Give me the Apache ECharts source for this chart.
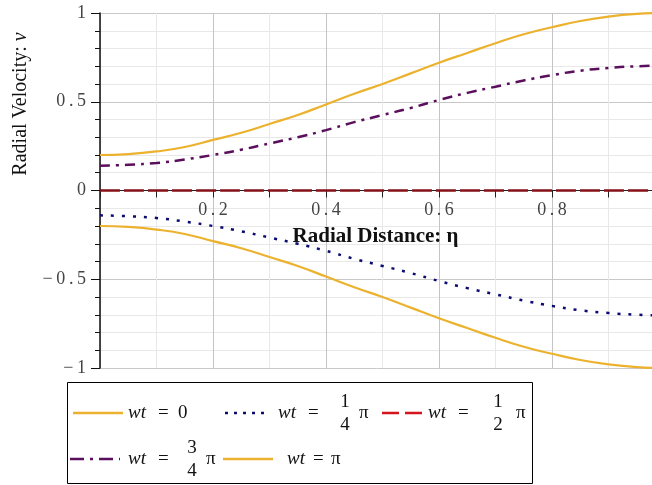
<!DOCTYPE html>
<html>
<head>
<meta charset="utf-8">
<script src="https://cdn.jsdelivr.net/npm/echarts@6.0.0/dist/echarts.min.js"></script>
<style>
html,body{margin:0;padding:0;background:#fff;}
#chart{width:652px;height:485px;}
</style>
</head>
<body>
<div id="chart"></div>
<script>
// ---- data ----
const eta = [0, 0.05, 0.1, 0.15, 0.2, 0.25, 0.3, 0.35, 0.4, 0.45, 0.5, 0.55, 0.6, 0.65, 0.7, 0.75, 0.8, 0.85, 0.9, 0.95, 1.0];
const vWt0 = [0.20, 0.205, 0.22, 0.245, 0.285, 0.325, 0.375, 0.425, 0.485, 0.545, 0.60, 0.66, 0.72, 0.775, 0.83, 0.88, 0.92, 0.955, 0.98, 0.995, 1.0];
const vWtQuarter = [-0.14, -0.145, -0.155, -0.175, -0.20, -0.23, -0.265, -0.30, -0.34, -0.385, -0.425, -0.465, -0.51, -0.55, -0.585, -0.62, -0.65, -0.675, -0.69, -0.70, -0.705];
const vWtHalf = [0, 0, 0, 0, 0, 0, 0, 0, 0, 0, 0, 0, 0, 0, 0, 0, 0, 0, 0, 0, 0];
const vWt3Quarter = [0.14, 0.145, 0.155, 0.175, 0.20, 0.23, 0.265, 0.30, 0.34, 0.385, 0.425, 0.465, 0.51, 0.55, 0.585, 0.62, 0.65, 0.675, 0.69, 0.70, 0.705];
const vWtPi = [-0.20, -0.205, -0.22, -0.245, -0.285, -0.325, -0.375, -0.425, -0.485, -0.545, -0.60, -0.66, -0.72, -0.775, -0.83, -0.88, -0.92, -0.955, -0.98, -0.995, -1.0];
const xTickLabels = {'0.2': '0\u2009.\u20092', '0.4': '0\u2009.\u20094', '0.6': '0\u2009.\u20096', '0.8': '0\u2009.\u20098'};
const yTickLabels = {'1': '1', '0.5': '0\u2009.\u20095', '0': '0', '-0.5': '\u2212\u20090\u2009.\u20095', '-1': '\u2212\u20091'};
const seriesNames = ['wt = 0', 'wt = 1/4 π', 'wt = 1/2 π', 'wt = 3/4 π', 'wt = π'];

const serif = '"Liberation Serif", "DejaVu Serif", serif';
const cYellow = '#ECB22E', cNavy = '#0C0C70', cRedPlot = '#861018', cRedLeg = '#D4161C', cPurple = '#5A0E5C';

function pairs(ys) { return eta.map((x, i) => [x, ys[i]]); }
function key(v) { return String(Math.round(v * 10) / 10); }

const W = 652, H = 485;
const gridTop = 13, gridBottom = 117;
const zeroOffset = -(H - gridTop - gridBottom) / 2; // move the x axis up to y = 0

const chart = echarts.init(document.getElementById('chart'), null, {renderer: 'canvas'});

// ---- legend drawn as graphic (stacked fractions) ----
const legendEls = [];
legendEls.push({type: 'rect', shape: {x: 67.5, y: 382.5, width: 465, height: 101}, style: {fill: '#fff', stroke: '#000', lineWidth: 1}, z: 10});
function seg(x1, x2, y, color, dash) {
  legendEls.push({type: 'line', shape: {x1: x1, y1: y, x2: x2, y2: y}, style: {stroke: color, lineWidth: 2.5, lineDash: dash || null}, z: 11});
}
function txt(s, x, y, italic, align) {
  legendEls.push({type: 'text', x: x, y: y, z: 11, style: {text: s, font: (italic ? 'italic ' : '') + '19px ' + serif, fill: '#111', align: align || 'left', verticalAlign: 'middle'}});
}
// row 1
seg(73, 123, 413, cYellow);
txt('wt', 128, 413, true); txt('=', 158, 413); txt('0', 178, 413);
seg(225, 265, 413, cNavy, [3, 6]);
txt('wt', 278, 413, true); txt('=', 308, 413); txt('1', 345, 402, false, 'center'); txt('4', 345, 425, false, 'center'); txt('π', 359, 413);
seg(382, 423, 413, cRedLeg, [17, 6]);
txt('wt', 428, 413, true); txt('=', 458, 413); txt('1', 498, 402, false, 'center'); txt('2', 498, 425, false, 'center'); txt('π', 516, 413);
// row 2
seg(70, 120, 459, cPurple, [14, 6, 3, 6]);
txt('wt', 128, 459, true); txt('=', 158, 459); txt('3', 192, 448, false, 'center'); txt('4', 192, 471, false, 'center'); txt('π', 206, 459);
seg(223, 273, 459, cYellow);
txt('wt', 287, 459, true); txt('=', 313, 459); txt('π', 331, 459);

// y axis title
legendEls.push({type: 'text', x: 21, y: 104, rotation: Math.PI / 2, z: 11,
  style: {text: '{a|Radial Velocity: }{b|v}', align: 'center', verticalAlign: 'middle',
    rich: {a: {font: '20px ' + serif, fill: '#111'}, b: {font: 'italic 20px ' + serif, fill: '#111'}}}});

const option = {
  backgroundColor: '#fff',
  animation: false,
  grid: {left: 100, top: gridTop, right: -13, bottom: gridBottom, containLabel: false, outerBoundsMode: 'none'},
  xAxis: {
    type: 'value', min: 0, max: 1, interval: 0.2,
    position: 'bottom', offset: zeroOffset,
    name: 'Radial Distance: η', nameLocation: 'middle', nameGap: 36,
    nameTextStyle: {fontFamily: serif, fontWeight: 'bold', fontSize: 21, color: '#111', padding: [0, 14, 0, 0]},
    axisLine: {show: true, onZero: false, lineStyle: {color: '#222', width: 1.2}},
    axisTick: {show: true, length: 7, lineStyle: {color: '#222'}},
    minorTick: {show: true, splitNumber: 2, length: 7, lineStyle: {color: '#222'}},
    axisLabel: {fontFamily: serif, fontSize: 18, color: '#444', margin: 11,
      formatter: v => xTickLabels[key(v)] || ''},
    splitLine: {show: true, lineStyle: {color: '#c4c4c4', width: 1}},
    minorSplitLine: {show: true, lineStyle: {color: '#e8e8e8', width: 1}}
  },
  yAxis: {
    type: 'value', min: -1, max: 1, interval: 0.5,
    axisLine: {show: true, onZero: false, lineStyle: {color: '#111', width: 1.5}},
    axisTick: {show: true, length: 9, lineStyle: {color: '#111'}},
    minorTick: {show: true, splitNumber: 5, length: 5, lineStyle: {color: '#111'}},
    axisLabel: {fontFamily: serif, fontSize: 18, color: '#444', margin: 14,
      formatter: v => yTickLabels[key(v)] || ''},
    splitLine: {show: true, lineStyle: {color: '#c8c8c8', width: 1}},
    minorSplitLine: {show: true, lineStyle: {color: '#e8e8e8', width: 1}}
  },
  legend: {show: false, data: seriesNames},
  series: [
    {name: seriesNames[0], type: 'line', data: pairs(vWt0), smooth: true, showSymbol: false, lineStyle: {color: cYellow, width: 2.2}},
    {name: seriesNames[1], type: 'line', data: pairs(vWtQuarter), smooth: true, showSymbol: false, lineStyle: {color: cNavy, width: 2.5, type: [3, 8]}},
    {name: seriesNames[2], type: 'line', data: pairs(vWtHalf), smooth: true, showSymbol: false, lineStyle: {color: cRedPlot, width: 2.5, type: [20, 4]}},
    {name: seriesNames[3], type: 'line', data: pairs(vWt3Quarter), smooth: true, showSymbol: false, lineStyle: {color: cPurple, width: 2.5, type: [10, 6, 3, 6]}},
    {name: seriesNames[4], type: 'line', data: pairs(vWtPi), smooth: true, showSymbol: false, lineStyle: {color: cYellow, width: 2.2}}
  ],
  graphic: legendEls
};
chart.setOption(option);
</script>
</body>
</html>
